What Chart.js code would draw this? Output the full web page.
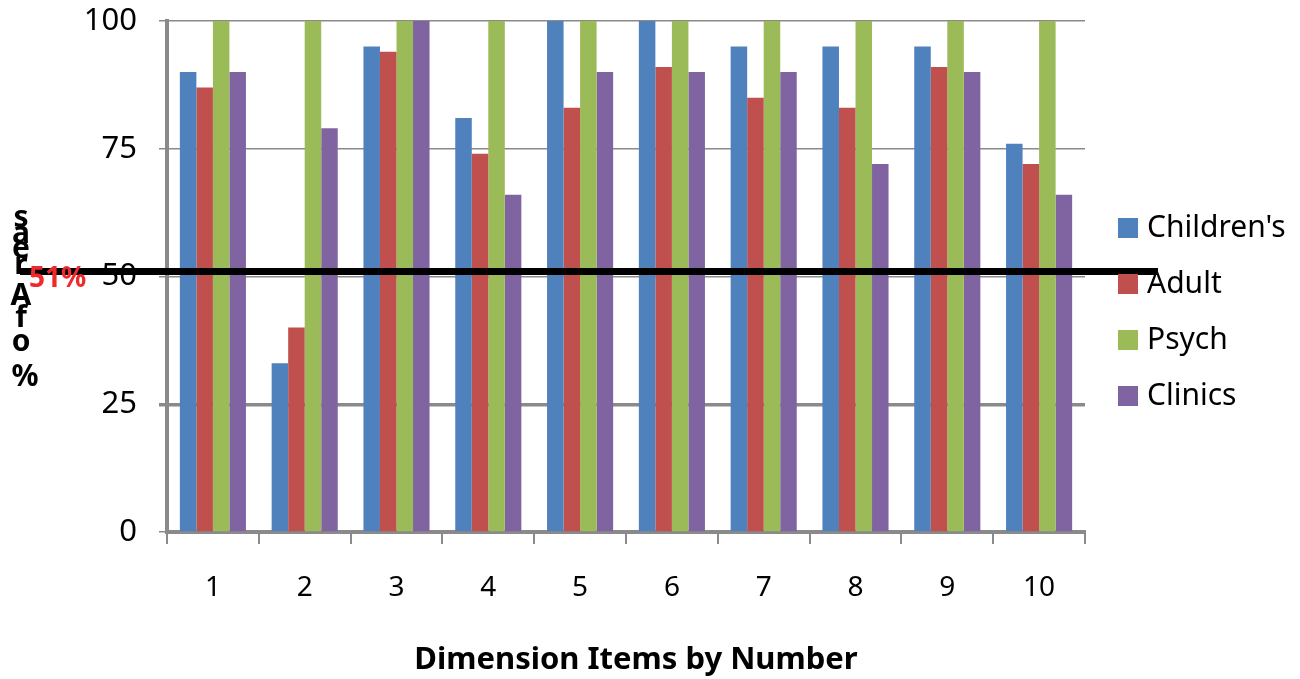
<!DOCTYPE html>
<html>
<head>
<meta charset="utf-8">
<script src="https://cdn.jsdelivr.net/npm/chart.js@4/dist/chart.umd.min.js"></script>
<style>
  html, body { margin: 0; padding: 0; background: #ffffff; }
  #wrap { width: 1300px; height: 679px; position: relative; }
</style>
</head>
<body>
<div id="wrap"><canvas id="chart" width="1300" height="679"></canvas></div>
<script>
// Dimension items 1-10
const categories = ['1', '2', '3', '4', '5', '6', '7', '8', '9', '10'];

// Percentage of areas meeting each dimension item, by group
const childrens = [90, 33, 95, 81, 100, 100, 95, 95, 95, 76];
const adult     = [87, 40, 94, 74, 83, 91, 85, 83, 91, 72];
const psych     = [100, 100, 100, 100, 100, 100, 100, 100, 100, 100];
const clinics   = [90, 79, 100, 66, 90, 90, 90, 72, 90, 66];

const seriesNames = ["Children's", 'Adult', 'Psych', 'Clinics'];
const seriesColors = ['#4F81BD', '#C0504D', '#9BBB59', '#8064A2'];

// Value axis ticks and the threshold marker
const yTicks = [0, 25, 50, 75, 100];
const threshold = 51;
const thresholdLabel = '51%';
const xTitle = 'Dimension Items by Number';

const FONT = "'Noto Sans', 'Open Sans', sans-serif";

// Reference line across the plot with its red label
const thresholdPlugin = {
  id: 'thresholdLine',
  afterDatasetsDraw(chart) {
    const { ctx } = chart;
    const y = chart.scales.y.getPixelForValue(threshold);
    ctx.save();
    ctx.strokeStyle = '#000000';
    ctx.lineWidth = 7;
    ctx.beginPath();
    ctx.moveTo(20, y);
    ctx.lineTo(1158, y);
    ctx.stroke();
    ctx.fillStyle = '#EE2A2A';
    ctx.font = 'bold 28px ' + FONT;
    ctx.textAlign = 'left';
    ctx.textBaseline = 'middle';
    ctx.fillText(thresholdLabel, 29, y + 8);
    ctx.restore();
  }
};

// Vertical stacked axis title "% of Areas", letters read bottom to top,
// plus the category axis title under the tick labels
const axisTitlesPlugin = {
  id: 'axisTitles',
  afterDraw(chart) {
    const { ctx } = chart;
    const letters = ['s', 'a', 'e', 'r', 'A', 'f', 'o', '%'];
    const offsets = [0, 16, 31, 47, 78, 100, 124, 159];
    const top = 218;
    ctx.save();
    ctx.fillStyle = '#000000';
    ctx.font = 'bold 30px ' + FONT;
    ctx.textAlign = 'center';
    ctx.textBaseline = 'middle';
    letters.forEach((ch, i) => {
      ctx.fillText(ch, ch === '%' ? 25 : 21, top + offsets[i]);
    });
    ctx.font = 'bold 31px ' + FONT;
    ctx.fillText(xTitle, 636, 660);
    ctx.restore();
  }
};

// Legend on the right with square swatches
const sideLegendPlugin = {
  id: 'sideLegend',
  afterDraw(chart) {
    const { ctx, chartArea } = chart;
    const x = chartArea.right + 33;
    const step = 56;
    const startY = 228;
    ctx.save();
    ctx.font = '30px ' + FONT;
    ctx.textAlign = 'left';
    ctx.textBaseline = 'middle';
    chart.data.datasets.forEach((ds, i) => {
      const cy = startY + i * step;
      ctx.fillStyle = ds.backgroundColor;
      ctx.fillRect(x, cy - 10, 20, 20);
      ctx.fillStyle = '#000000';
      ctx.fillText(ds.label, x + 29, cy);
    });
    ctx.restore();
  }
};

const seriesValues = [childrens, adult, psych, clinics];

new Chart(document.getElementById('chart'), {
  type: 'bar',
  data: {
    labels: categories,
    datasets: seriesValues.map((vals, i) => ({
      label: seriesNames[i],
      data: vals,
      backgroundColor: seriesColors[i],
      borderWidth: 0,
      categoryPercentage: 0.72,
      barPercentage: 1.0
    }))
  },
  options: {
    responsive: false,
    animation: false,
    devicePixelRatio: 1,
    layout: { padding: { top: 21, right: 215, left: 0, bottom: 0 } },
    plugins: {
      legend: { display: false },
      tooltip: { enabled: false }
    },
    scales: {
      x: {
        offset: true,
        grid: {
          offset: true,
          drawOnChartArea: false,
          drawTicks: true,
          tickLength: 12,
          color: '#8a8a8a',
          lineWidth: 2
        },
        border: { display: true, color: '#8a8a8a', width: 4 },
        ticks: {
          color: '#000000',
          font: { family: FONT, size: 28 },
          padding: 27
        },
        afterFit(scale) { scale.height = 147; }
      },
      y: {
        min: 0,
        max: 100,
        afterBuildTicks(scale) {
          scale.ticks = yTicks.map(v => ({ value: v }));
        },
        grid: {
          drawTicks: true,
          tickLength: 8,
          color: '#8a8a8a',
          lineWidth: (c) => (c.tick && c.tick.value === 25 ? 3.5 : 1.5)
        },
        border: { display: true, color: '#8a8a8a', width: 4 },
        ticks: {
          color: '#000000',
          font: { family: FONT, size: 31 },
          padding: 22
        },
        afterFit(scale) {
          scale.width = 167;
          scale.paddingTop = 0;
          scale.paddingBottom = 0;
        }
      }
    }
  },
  plugins: [thresholdPlugin, axisTitlesPlugin, sideLegendPlugin]
});
</script>
</body>
</html>
